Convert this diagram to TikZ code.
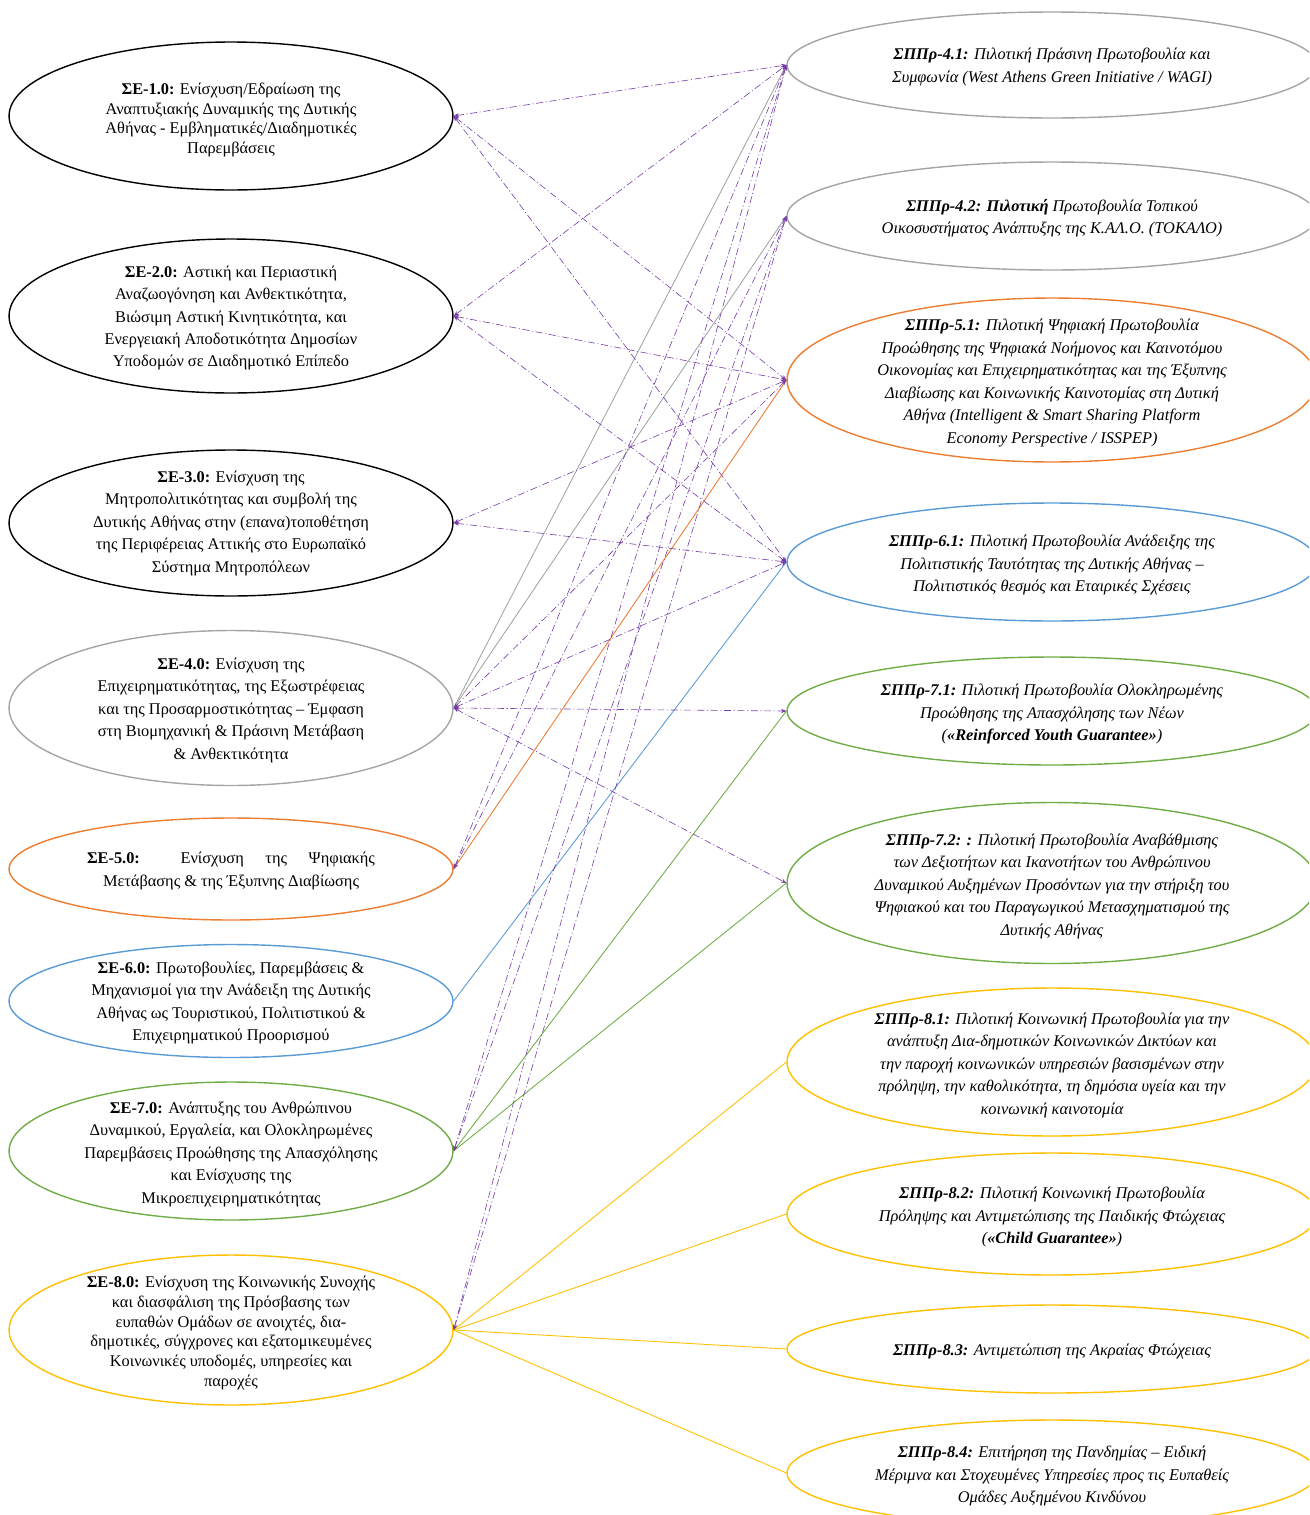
\documentclass[tikz,border=0pt]{standalone}
\usepackage{fontspec}
\setmainfont{Liberation Serif}
\usetikzlibrary{shapes.geometric,arrows.meta}

\definecolor{ogray}{RGB}{165,165,165}
\definecolor{oorange}{RGB}{237,125,49}
\definecolor{oblue}{RGB}{91,155,213}
\definecolor{ogreen}{RGB}{112,173,71}
\definecolor{ogold}{RGB}{255,192,0}
\definecolor{opurple}{RGB}{120,60,170}

\tikzset{
  oval/.style={ellipse, draw=#1, line width=0.8pt, inner sep=0pt},
  goal/.style={oval=#1, minimum width=8.88cm},
  pilot/.style={oval=#1, minimum width=10.6cm},
  gtxt/.style={align=center, font=\fontsize{9.3}{12.8}\selectfont},
  tighttxt/.style={align=center, font=\fontsize{9.3}{11.2}\selectfont},
  ptxt/.style={align=center, font=\fontsize{9.3}{12.8}\selectfont\itshape},
  link/.style={opurple, line width=0.35pt,
    dash pattern=on 4pt off 1.5pt on 0.6pt off 1.5pt,
    {Stealth[length=3pt,width=2.4pt]}-{Stealth[length=3pt,width=2.4pt]}},
  tie/.style={draw=#1, line width=0.5pt}
}

\begin{document}
\begin{tikzpicture}[x=0.02cm, y=-0.02cm]
	\useasboundingbox (0,0) rectangle (1309,1515);
	\clip (0,0) rectangle (1309,1515);

	% strategic goals (left)
	\node[goal=black, minimum height=2.96cm] (se1) at (231,116) {};
	\node[tighttxt] (se1t) at (231,120) {\textbf{ΣΕ-1.0:} Ενίσχυση/Εδραίωση της\\Αναπτυξιακής Δυναμικής της Δυτικής\\Αθήνας - Εμβληματικές/Διαδημοτικές\\Παρεμβάσεις};

	\node[goal=black, minimum height=3.08cm] (se2) at (231,316) {};
	\node[gtxt] (se2t) at (231,318) {\textbf{ΣΕ-2.0:} Αστική και Περιαστική\\Αναζωογόνηση και Ανθεκτικότητα,\\Βιώσιμη Αστική Κινητικότητα, και\\Ενεργειακή Αποδοτικότητα Δημοσίων\\Υποδομών σε Διαδημοτικό Επίπεδο};

	\node[goal=black, minimum height=2.92cm] (se3) at (231,523) {};
	\node[gtxt] (se3t) at (se3) {\textbf{ΣΕ-3.0:} Ενίσχυση της\\Μητροπολιτικότητας και συμβολή της\\Δυτικής Αθήνας στην (επανα)τοποθέτηση\\της Περιφέρειας Αττικής στο Ευρωπαϊκό\\Σύστημα Μητροπόλεων};

	\node[goal=ogray, minimum height=3.1cm] (se4) at (231,708) {};
	\node[gtxt] (se4t) at (231,710) {\textbf{ΣΕ-4.0:} Ενίσχυση της\\Επιχειρηματικότητας, της Εξωστρέφειας\\και της Προσαρμοστικότητας – Έμφαση\\στη Βιομηχανική \& Πράσινη Μετάβαση\\\& Ανθεκτικότητα};

	\node[goal=oorange, minimum height=2.04cm] (se5) at (231,869) {};
	\node[gtxt] (se5t) at (231,871) {\makebox[5.76cm][s]{\textbf{ΣΕ-5.0:} Ενίσχυση της Ψηφιακής}\\Μετάβασης \& της Έξυπνης Διαβίωσης};

	\node[goal=oblue, minimum height=2.26cm] (se6) at (231,1001) {};
	\node[gtxt] (se6t) at (231,1003) {\textbf{ΣΕ-6.0:} Πρωτοβουλίες, Παρεμβάσεις \&\\Μηχανισμοί για την Ανάδειξη της Δυτικής\\Αθήνας ως Τουριστικού, Πολιτιστικού \&\\Επιχειρηματικού Προορισμού};

	\node[goal=ogreen, minimum height=2.76cm] (se7) at (231,1151) {};
	\node[gtxt] (se7t) at (231,1154) {\textbf{ΣΕ-7.0:} Ανάπτυξης του Ανθρώπινου\\Δυναμικού, Εργαλεία, και Ολοκληρωμένες\\Παρεμβάσεις Προώθησης της Απασχόλησης\\και Ενίσχυσης της\\Μικροεπιχειρηματικότητας};

	\node[goal=ogold, minimum height=3.0cm] (se8) at (231,1330) {};
	\node[tighttxt] (se8t) at (231,1333) {\textbf{ΣΕ-8.0:} Ενίσχυση της Κοινωνικής Συνοχής\\και διασφάλιση της Πρόσβασης των\\ευπαθών Ομάδων σε ανοιχτές, δια-\\δημοτικές, σύγχρονες και εξατομικευμένες\\Κοινωνικές υποδομές, υπηρεσίες και\\παροχές};

	% pilot actions (right)
	\node[pilot=ogray, minimum height=2.12cm] (p41) at (1052,65) {};
	\node[ptxt] (p41t) at (1052,67) {\textbf{ΣΠΠρ-4.1:} Πιλοτική Πράσινη Πρωτοβουλία και\\Συμφωνία (West Athens Green Initiative / WAGI)};

	\node[pilot=ogray, minimum height=2.16cm] (p42) at (1052,216) {};
	\node[ptxt] (p42t) at (1052,218) {\textbf{ΣΠΠρ-4.2: Πιλοτική} Πρωτοβουλία Τοπικού\\Οικοσυστήματος Ανάπτυξης της Κ.ΑΛ.Ο. (ΤΟΚΑΛΟ)};

	\node[pilot=oorange, minimum height=3.28cm] (p51) at (1052,380) {};
	\node[ptxt] (p51t) at (1052,383) {\textbf{ΣΠΠρ-5.1:} Πιλοτική Ψηφιακή Πρωτοβουλία\\Προώθησης της Ψηφιακά Νοήμονος και Καινοτόμου\\Οικονομίας και Επιχειρηματικότητας και της Έξυπνης\\Διαβίωσης και Κοινωνικής Καινοτομίας στη Δυτική\\Αθήνα (Intelligent \& Smart Sharing Platform\\Economy Perspective / ISSPEP)};

	\node[pilot=oblue, minimum height=2.36cm] (p61) at (1052,562) {};
	\node[ptxt] (p61t) at (1052,565) {\textbf{ΣΠΠρ-6.1:} Πιλοτική Πρωτοβουλία Ανάδειξης της\\Πολιτιστικής Ταυτότητας της Δυτικής Αθήνας –\\Πολιτιστικός θεσμός και Εταιρικές Σχέσεις};

	\node[pilot=ogreen, minimum height=2.16cm] (p71) at (1052,711) {};
	\node[ptxt] (p71t) at (1052,714) {\textbf{ΣΠΠρ-7.1:} Πιλοτική Πρωτοβουλία Ολοκληρωμένης\\Προώθησης της Απασχόλησης των Νέων\\(\textbf{«Reinforced Youth Guarantee»})};

	\node[pilot=ogreen, minimum height=3.22cm] (p72) at (1052,883) {};
	\node[ptxt] (p72t) at (1052,886) {\textbf{ΣΠΠρ-7.2: :} Πιλοτική Πρωτοβουλία Αναβάθμισης\\των Δεξιοτήτων και Ικανοτήτων του Ανθρώπινου\\Δυναμικού Αυξημένων Προσόντων για την στήριξη του\\Ψηφιακού και του Παραγωγικού Μετασχηματισμού της\\Δυτικής Αθήνας};

	\node[pilot=ogold, minimum height=2.96cm] (p81) at (1052,1062) {};
	\node[ptxt] (p81t) at (1052,1065) {\textbf{ΣΠΠρ-8.1:} Πιλοτική Κοινωνική Πρωτοβουλία για την\\ανάπτυξη Δια-δημοτικών Κοινωνικών Δικτύων και\\την παροχή κοινωνικών υπηρεσιών βασισμένων στην\\πρόληψη, την καθολικότητα, τη δημόσια υγεία και την\\κοινωνική καινοτομία};

	\node[pilot=ogold, minimum height=2.44cm] (p82) at (1052,1214) {};
	\node[ptxt] (p82t) at (1052,1217) {\textbf{ΣΠΠρ-8.2:} Πιλοτική Κοινωνική Πρωτοβουλία\\Πρόληψης και Αντιμετώπισης της Παιδικής Φτώχειας\\(\textbf{«Child Guarantee»})};

	\node[pilot=ogold, minimum height=1.76cm] (p83) at (1052,1349) {};
	\node[ptxt] (p83t) at (1052,1351) {\textbf{ΣΠΠρ-8.3:} Αντιμετώπιση της Ακραίας Φτώχειας};

	\node[pilot=ogold, minimum height=2.12cm] (p84) at (1052,1473) {};
	\node[ptxt] (p84t) at (1052,1476) {\textbf{ΣΠΠρ-8.4:} Επιτήρηση της Πανδημίας – Ειδική\\Μέριμνα και Στοχευμένες Υπηρεσίες προς τις Ευπαθείς\\Ομάδες Αυξημένου Κινδύνου};

	% solid links
	\draw[tie=ogray] (se4.east) -- (p41.west);
	\draw[tie=ogray] (se4.east) -- (p42.west);
	\draw[tie=oorange] (se5.east) -- (p51.west);
	\draw[tie=oblue] (se6.east) -- (p61.west);
	\draw[tie=ogreen] (se7.east) -- (p71.west);
	\draw[tie=ogreen] (se7.east) -- (p72.west);
	\draw[tie=ogold] (se8.east) -- (p81.west);
	\draw[tie=ogold] (se8.east) -- (p82.west);
	\draw[tie=ogold] (se8.east) -- (p83.west);
	\draw[tie=ogold] (se8.east) -- (p84.west);

	% dash-dot links
	\draw[link] (se1.east) -- (p41.west);
	\draw[link] (se1.east) -- (p51.west);
	\draw[link] (se1.east) -- (p61.west);
	\draw[link] (se2.east) -- (p41.west);
	\draw[link] (se2.east) -- (p51.west);
	\draw[link] (se2.east) -- (p61.west);
	\draw[link] (se3.east) -- (p51.west);
	\draw[link] (se3.east) -- (p61.west);
	\draw[link] (se4.east) -- (p51.west);
	\draw[link] (se4.east) -- (p61.west);
	\draw[link] (se4.east) -- (p71.west);
	\draw[link] (se4.east) -- (p72.west);
	\draw[link] (se5.east) -- (p41.west);
	\draw[link] (se5.east) -- (p42.west);
	\draw[link] (se7.east) -- (p41.west);
	\draw[link] (se7.east) -- (p42.west);
	\draw[link] (se8.east) -- (p41.west);
	\draw[link] (se8.east) -- (p42.west);
\end{tikzpicture}
\end{document}
